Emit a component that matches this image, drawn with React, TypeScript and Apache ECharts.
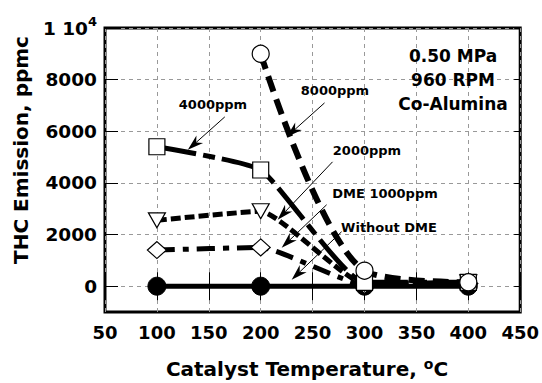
import React, { useEffect, useRef } from "react";
import * as echarts from "echarts";

const FONT = "DejaVu Sans";

const temps = [100, 200, 300, 400];
const withoutDME = [0, 0, 0, 0];
const dme1000 = [1400, 1500, 50, 100];
const dme2000 = [2550, 2900, 100, 150];
const dme4000 = [5400, 4500, 150, 150];
const dme8000: (number | null)[] = [null, 9000, 600, 150];

const yTicks = [0, 2000, 4000, 6000, 8000, 10000];

// annotation arrows in data coordinates: [fromX, fromY, toX, toY]
const arrows = [
  [165.4, 6557, 129.8, 5280],
  [261.5, 7099, 225, 5783],
  [269.2, 4816, 216.3, 2573],
  [263.5, 3153, 220.2, 1489],
  [277.9, 2108, 229.8, 251],
];

const annotationLabels = ["4000ppm", "8000ppm", "2000ppm", "DME 1000ppm", "Without DME"];
const annotationPos = [
  [213, 104],
  [335, 90],
  [367, 150],
  [385, 193],
  [389, 227],
];

const conditions = ["0.50 MPa", "960 RPM", "Co-Alumina"];

function pairs(vals: (number | null)[]) {
  return temps
    .map((t, i) => [t, vals[i]])
    .filter((d) => d[1] !== null);
}

export default function App() {
  const ref = useRef<HTMLDivElement>(null);
  useEffect(() => {
    document.body.style.margin = "0";
    const chart = echarts.init(ref.current!, null, { renderer: "svg" });
    const openItem = { color: "#fff", borderColor: "#000", borderWidth: 1.2 };
    const baseSeries = (name: string, vals: (number | null)[], extra: any) => ({
      name,
      type: "line",
      data: pairs(vals),
      smooth: 0.15,
      symbolSize: 17,
      ...extra,
    });
    chart.setOption({
      animation: false,
      grid: {
        left: 105,
        right: 21,
        top: 28,
        bottom: 71,
        show: true,
        borderColor: "#000",
        borderWidth: 3,
        backgroundColor: "#fff",
      },
      xAxis: [
        {
          type: "value",
          min: 50,
          max: 450,
          interval: 50,
          axisLine: { show: false },
          axisTick: { inside: true, length: 14, lineStyle: { color: "#000", width: 1 } },
          axisLabel: {
            margin: 11,
            fontFamily: FONT,
            fontWeight: "bold",
            fontSize: 18,
            color: "#000",
          },
          splitLine: { show: true, lineStyle: { color: "#999", type: [4, 4], width: 1 } },
        },
        {
          type: "value",
          position: "top",
          min: 50,
          max: 450,
          interval: 50,
          axisLine: { show: false },
          axisTick: { inside: true, length: 14, lineStyle: { color: "#000", width: 1 } },
          axisLabel: { show: false },
          splitLine: { show: false },
        },
      ],
      yAxis: [
        {
          type: "value",
          min: -1000,
          max: 10000,
          axisLine: { show: false },
          axisTick: {
            inside: true,
            length: 13,
            customValues: yTicks,
            lineStyle: { color: "#000", width: 1 },
          },
          axisLabel: {
            customValues: yTicks,
            margin: 8,
            formatter: (v: number) => (v === 10000 ? "{b|1 10}{s|4}" : "{b|" + v + "}"),
            rich: {
              b: { fontFamily: FONT, fontWeight: "bold", fontSize: 18.5, color: "#000", lineHeight: 26, verticalAlign: "middle" },
              s: { fontFamily: FONT, fontWeight: "bold", fontSize: 13, color: "#000", lineHeight: 12, verticalAlign: "top" },
            },
          },
          splitLine: { show: true, lineStyle: { color: "#999", type: [4, 4], width: 1 } },
        },
        {
          type: "value",
          position: "right",
          min: -1000,
          max: 10000,
          axisLine: { show: false },
          axisTick: {
            inside: true,
            length: 6,
            customValues: yTicks,
            lineStyle: { color: "#000", width: 1 },
          },
          axisLabel: { show: false },
          splitLine: { show: false },
        },
      ],
      series: [
        baseSeries("Without DME", withoutDME, {
          symbol: "circle",
          symbolSize: 18,
          itemStyle: { color: "#000", borderColor: "#000" },
          lineStyle: { color: "#000", width: 5, type: "solid" },
        }),
        baseSeries("DME 1000ppm", dme1000, {
          symbol: "diamond",
          symbolSize: [19, 17],
          itemStyle: openItem,
          lineStyle: { color: "#000", width: 5, type: [18, 8, 6, 8] },
        }),
        baseSeries("2000ppm", dme2000, {
          symbol: "triangle",
          symbolRotate: 180,
          symbolSize: [17, 15],
          itemStyle: openItem,
          lineStyle: { color: "#000", width: 5, type: [10, 4] },
        }),
        baseSeries("4000ppm", dme4000, {
          symbol: "rect",
          symbolSize: 16,
          itemStyle: openItem,
          lineStyle: { color: "#000", width: 5, type: [40, 7, 12, 7] },
        }),
        baseSeries("8000ppm", dme8000, {
          symbol: "circle",
          symbolSize: 17,
          smooth: 0.3,
          itemStyle: openItem,
          lineStyle: { color: "#000", width: 6, type: [16, 8] },
        }),
        {
          type: "custom",
          name: "arrows",
          data: arrows,
          encode: { x: [0, 2], y: [1, 3] },
          clip: false,
          silent: true,
          renderItem: (params: any, api: any) => {
            const p1 = api.coord([api.value(0), api.value(1)]);
            const p2 = api.coord([api.value(2), api.value(3)]);
            const dx = p2[0] - p1[0];
            const dy = p2[1] - p1[1];
            const len = Math.sqrt(dx * dx + dy * dy);
            const ux = dx / len;
            const uy = dy / len;
            const nx = -uy;
            const ny = ux;
            const L = 16;
            const W = 5;
            const bx = p2[0] - L * ux;
            const by = p2[1] - L * uy;
            const mx = p2[0] - 0.7 * L * ux;
            const my = p2[1] - 0.7 * L * uy;
            return {
              type: "group",
              children: [
                {
                  type: "line",
                  shape: { x1: p1[0], y1: p1[1], x2: mx, y2: my },
                  style: { stroke: "#000", lineWidth: 1 },
                },
                {
                  type: "polygon",
                  shape: {
                    points: [
                      [p2[0], p2[1]],
                      [bx + W * nx, by + W * ny],
                      [mx, my],
                      [bx - W * nx, by - W * ny],
                    ],
                  },
                  style: { fill: "#000" },
                },
              ],
            };
          },
        },
      ],
      graphic: [
        ...annotationLabels.map((t, i) => ({
          type: "text",
          x: annotationPos[i][0],
          y: annotationPos[i][1],
          style: {
            text: t,
            fontFamily: FONT,
            fontWeight: "bold",
            fontSize: 13,
            fill: "#000",
            textAlign: "center",
            textVerticalAlign: "middle",
          },
          z: 100,
        })),
        ...conditions.map((t, i) => ({
          type: "text",
          x: 453,
          y: 56 + i * 24,
          style: {
            text: t,
            fontFamily: FONT,
            fontWeight: "bold",
            fontSize: 17,
            fill: "#000",
            textAlign: "center",
            textVerticalAlign: "middle",
          },
          z: 100,
        })),
        {
          type: "text",
          x: 21,
          y: 150,
          rotation: Math.PI / 2,
          style: {
            text: "THC Emission, ppmc",
            fontFamily: FONT,
            fontWeight: "bold",
            fontSize: 20,
            fill: "#000",
            textAlign: "center",
            textVerticalAlign: "middle",
          },
        },
        {
          type: "text",
          x: 307,
          y: 369,
          style: {
            text: "{a|Catalyst Temperature, }{o|o}{a|C}",
            textAlign: "center",
            textVerticalAlign: "middle",
            rich: {
              a: { fontFamily: FONT, fontWeight: "bold", fontSize: 20, fill: "#000", lineHeight: 24, verticalAlign: "middle" },
              o: { fontFamily: FONT, fontWeight: "bold", fontSize: 14, fill: "#000", lineHeight: 10, verticalAlign: "top" },
            },
          },
        },
      ],
    });
    return () => chart.dispose();
  }, []);
  return <div ref={ref} style={{ width: 542, height: 383 }} />;
}
